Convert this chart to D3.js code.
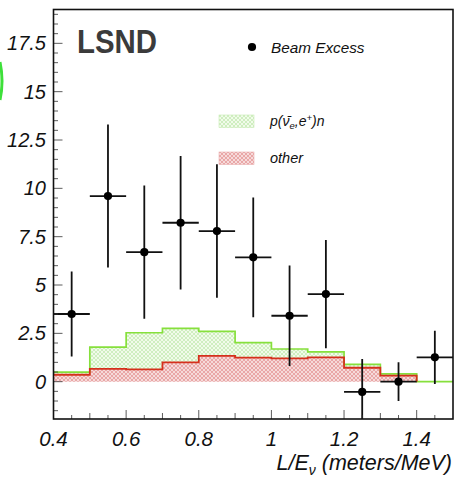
<!DOCTYPE html>
<html>
<head>
<meta charset="utf-8">
<script src="https://cdn.jsdelivr.net/npm/d3@7/dist/d3.min.js"></script>
<style>
  body { margin: 0; background: #fff; }
  text { font-family: "Liberation Sans", Arial, sans-serif; }
</style>
</head>
<body>
<script>
const width = 456;
const height = 483;

// bin edges and stacked histogram (top of each band)
const binEdges = [0.4, 0.5, 0.6, 0.7, 0.8, 0.9, 1.0, 1.1, 1.2, 1.3, 1.4, 1.5];
const otherVals = [0.36, 0.66, 0.64, 1.0, 1.34, 1.24, 1.21, 1.26, 0.72, 0.31, 0];
const totalVals = [0.49, 1.79, 2.53, 2.76, 2.6, 2.02, 1.69, 1.54, 0.9, 0.4, 0];

// beam excess points
const ptX = [0.45, 0.55, 0.65, 0.75, 0.85, 0.95, 1.05, 1.15, 1.25, 1.35, 1.45];
const ptY = [3.5, 9.6, 6.7, 8.22, 7.79, 6.43, 3.41, 4.53, -0.53, 0.0, 1.26];
const ptErr = [2.2, 3.7, 3.45, 3.45, 3.45, 3.1, 2.6, 2.8, 1.7, 1.0, 1.38];

const yTicks = [0, 2.5, 5, 7.5, 10, 12.5, 15, 17.5];
const xTicks = [0.4, 0.6, 0.8, 1.0, 1.2, 1.4];

const mLeft = 53.5, mRight = 453, mTop = 9.5, mBottom = 419;

const x = d3.scaleLinear().domain([0.4, 1.5]).range([mLeft, mRight]);
const y = d3.scaleLinear().domain([-1.93, 19.25]).range([mBottom, mTop]);

const svg = d3.select('body').append('svg')
  .attr('width', width).attr('height', height);

const defs = svg.append('defs');

function hatch(id, bg, fg) {
  const p = defs.append('pattern').attr('id', id)
    .attr('patternUnits', 'userSpaceOnUse').attr('width', 4).attr('height', 4);
  p.append('rect').attr('width', 4).attr('height', 4).attr('fill', bg);
  p.append('path').attr('d', 'M0,0 L4,4 M4,0 L0,4')
    .attr('stroke', fg).attr('stroke-width', 0.6);
}
hatch('hatch-green', '#f1fbea', '#b9e6a2');
hatch('hatch-red', '#f6dada', '#e08484');

defs.append('clipPath').attr('id', 'plot-clip')
  .append('rect').attr('x', mLeft).attr('y', mTop)
  .attr('width', mRight - mLeft).attr('height', mBottom - mTop);

// histogram rows (last edge repeats the last value for step drawing)
const hist = binEdges.map((e, i) => ({
  x: e,
  other: otherVals[Math.min(i, otherVals.length - 1)],
  total: totalVals[Math.min(i, totalVals.length - 1)]
}));

const plot = svg.append('g').attr('clip-path', 'url(#plot-clip)');

plot.append('path').datum(hist)
  .attr('fill', 'url(#hatch-green)')
  .attr('d', d3.area().curve(d3.curveStepAfter)
    .x(d => x(d.x)).y0(d => y(d.other)).y1(d => y(d.total)));

plot.append('path').datum(hist)
  .attr('fill', 'url(#hatch-red)')
  .attr('d', d3.area().curve(d3.curveStepAfter)
    .x(d => x(d.x)).y0(y(0)).y1(d => y(d.other)));

plot.append('path').datum(hist)
  .attr('fill', 'none').attr('stroke', '#86e03c').attr('stroke-width', 1.7)
  .attr('d', d3.line().curve(d3.curveStepAfter).x(d => x(d.x)).y(d => y(d.total)));

// red line stops at 1.4
plot.append('path').datum(hist.slice(0, 11))
  .attr('fill', 'none').attr('stroke', '#d5301c').attr('stroke-width', 1.8)
  .attr('d', d3.line().curve(d3.curveStepAfter).x(d => x(d.x)).y(d => y(d.other)));

// error bars
const pts = ptX.map((v, i) => ({ x: v, y: ptY[i], e: ptErr[i] }));
const eb = plot.append('g').attr('stroke', '#111').attr('stroke-width', 1.8);
eb.selectAll('.v').data(pts).join('line').attr('class', 'v')
  .attr('x1', d => x(d.x)).attr('x2', d => x(d.x))
  .attr('y1', d => y(d.y - d.e)).attr('y2', d => y(d.y + d.e));
eb.selectAll('.h').data(pts).join('line').attr('class', 'h')
  .attr('x1', d => x(d.x - 0.05)).attr('x2', d => x(d.x + 0.05))
  .attr('y1', d => y(d.y)).attr('y2', d => y(d.y));
plot.append('g').selectAll('circle').data(pts).join('circle')
  .attr('cx', d => x(d.x)).attr('cy', d => y(d.y)).attr('r', 4.1).attr('fill', '#000');

// ticks (inward)
const axisG = svg.append('g').attr('stroke', '#333').attr('stroke-width', 0.8);
d3.range(-1.5, 19.01, 0.5).forEach(v => {
  const major = Math.abs(v / 2.5 - Math.round(v / 2.5)) < 1e-6;
  axisG.append('line').attr('x1', mLeft).attr('x2', mLeft + (major ? 9 : 4.5))
    .attr('y1', y(v)).attr('y2', y(v));
});
d3.range(0.45, 1.5, 0.05).forEach(v => {
  const r = Math.round(v * 100);
  const len = r % 20 === 0 ? 9 : (r % 10 === 0 ? 6 : 4);
  axisG.append('line').attr('x1', x(v)).attr('x2', x(v))
    .attr('y1', mBottom).attr('y2', mBottom - len);
});

// frame
svg.append('rect').attr('x', mLeft).attr('y', mTop)
  .attr('width', mRight - mLeft).attr('height', mBottom - mTop)
  .attr('fill', 'none').attr('stroke', '#111').attr('stroke-width', 1.6);

// tick labels
svg.append('g').selectAll('text').data(yTicks).join('text')
  .attr('x', 46).attr('y', d => y(d) + 7)
  .attr('text-anchor', 'end').attr('font-size', 20).attr('font-style', 'italic')
  .attr('fill', '#111')
  .text(d => d);
svg.append('g').selectAll('text').data(xTicks).join('text')
  .attr('x', d => x(d)).attr('y', 446)
  .attr('text-anchor', 'middle').attr('font-size', 20.5).attr('font-style', 'italic')
  .attr('fill', '#111')
  .text(d => d);

// axis title
const xt = svg.append('text').attr('x', 452).attr('y', 470)
  .attr('text-anchor', 'end').attr('font-size', 21.5).attr('font-style', 'italic')
  .attr('fill', '#111');
xt.append('tspan').text('L/E');
xt.append('tspan').attr('font-size', 14).attr('dy', 5).text('ν');
xt.append('tspan').attr('dy', -5).text(' (meters/MeV)');

// title
svg.append('text').attr('x', 77).attr('y', 53)
  .attr('font-size', 34).attr('font-weight', 'bold').attr('fill', '#3b3b3b')
  .attr('textLength', 80).attr('lengthAdjust', 'spacingAndGlyphs')
  .text('LSND');

// legend
svg.append('circle').attr('cx', 252).attr('cy', 47).attr('r', 4.1).attr('fill', '#000');
svg.append('text').attr('x', 271).attr('y', 53).attr('font-size', 15.3)
  .attr('font-style', 'italic').attr('fill', '#111').text('Beam Excess');

svg.append('rect').attr('x', 219).attr('y', 115).attr('width', 35).attr('height', 12.5)
  .attr('fill', 'url(#hatch-green)').attr('stroke', '#c8ecb4').attr('stroke-width', 0.6);
svg.append('rect').attr('x', 219).attr('y', 152).attr('width', 35).attr('height', 12.5)
  .attr('fill', 'url(#hatch-red)').attr('stroke', '#eab0b0').attr('stroke-width', 0.6);

const lg = svg.append('text').attr('x', 270).attr('y', 126).attr('font-size', 14)
  .attr('font-style', 'italic').attr('fill', '#111');
lg.append('tspan').text('p(ν\u0304');
lg.append('tspan').attr('font-size', 9.5).attr('dy', 3).text('e');
lg.append('tspan').attr('dy', -3).text(',e');
lg.append('tspan').attr('font-size', 9.5).attr('dy', -5).text('+');
lg.append('tspan').attr('dy', 5).text(')n');

svg.append('text').attr('x', 270).attr('y', 163).attr('font-size', 14.5)
  .attr('font-style', 'italic').attr('fill', '#111').text('other');

// green edge artifact on the left
svg.append('path').attr('d', 'M0,62 Q4,81 0,100')
  .attr('fill', 'none').attr('stroke', '#3ee03a').attr('stroke-width', 3);
</script>
</body>
</html>
